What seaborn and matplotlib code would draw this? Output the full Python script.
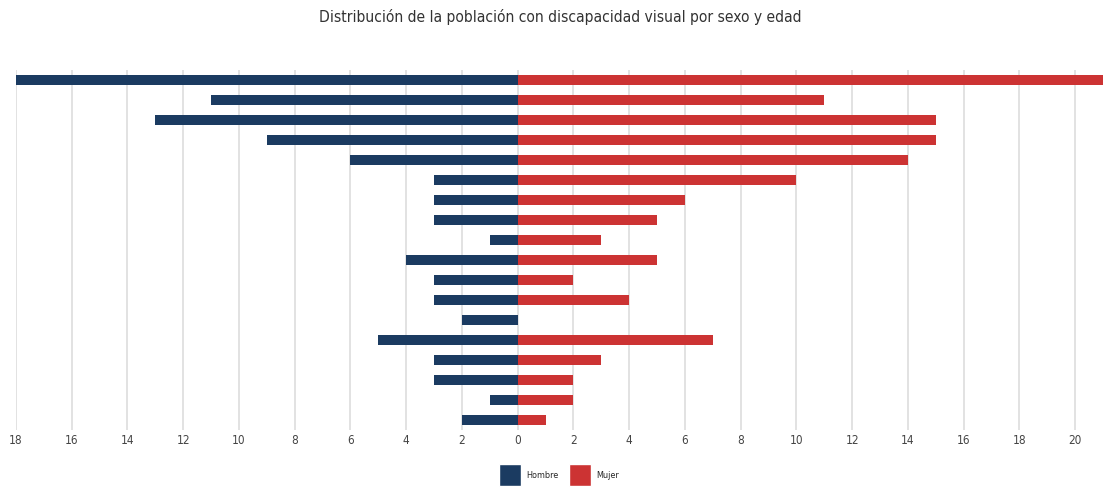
import matplotlib
matplotlib.use("Agg")
import matplotlib.pyplot as plt
import seaborn as sns
import numpy as np
import pandas as pd
from matplotlib.patches import Patch

# Data (top to bottom)
grupos = [f"g{i:02d}" for i in range(18)]
hombre = [18, 11, 13, 9, 6, 3, 3, 3, 1, 4, 3, 3, 2, 5, 3, 3, 1, 2]
mujer = [21, 11, 15, 15, 14, 10, 6, 5, 3, 5, 2, 4, 0, 7, 3, 2, 2, 1]
ticks = list(range(-18, 21, 2))

titulo = "Distribución de la población con discapacidad visual por sexo y edad"
c_h = "#1b3b61"
c_m = "#cc3333"

sns.set_theme(style="white")
plt.rcParams['font.family'] = ['DejaVu Sans']
plt.rcParams['font.stretch'] = 'condensed'

df = pd.DataFrame({"grupo": grupos, "Hombre": [-v for v in hombre], "Mujer": mujer})

fig = plt.figure(figsize=(11.03, 4.87), dpi=100)
ax = fig.add_axes([16/1103, 1 - 430/487, 1 - 16/1103, (430 - 70)/487])

sns.barplot(data=df, x="Hombre", y="grupo", color=c_h, width=0.52, orient="h",
            saturation=1, ax=ax, order=grupos, linewidth=0)
sns.barplot(data=df, x="Mujer", y="grupo", color=c_m, width=0.52, orient="h",
            saturation=1, ax=ax, order=grupos, linewidth=0)

ax.set_xlim(-18, 21)
ax.set_ylim(17.5, -0.5)
ax.set_xticks(ticks)
ax.set_xticklabels([str(abs(t)) for t in ticks], fontsize=8.5, color="#444444",
                   fontstretch="condensed")
ax.set_yticks([])
ax.set_xlabel("")
ax.set_ylabel("")
ax.grid(axis="x", color="#dddddd", linewidth=1.2)
ax.set_axisbelow(True)
for s in ax.spines.values():
    s.set_visible(False)
ax.tick_params(axis="x", length=0, pad=3)

fig.text(0.508, 1 - 17/487, titulo, ha="center", va="center", fontsize=11.2,
         color="#333333", fontstretch="condensed")

handles = [Patch(facecolor=c_h, label="Hombre"), Patch(facecolor=c_m, label="Mujer")]
fig.legend(handles=handles, loc="center", bbox_to_anchor=(0.507, 1 - 475/487), ncol=2,
           frameon=False, prop={"size": 6.5, "stretch": "condensed"},
           handlelength=2.4, handleheight=3.3,
           columnspacing=1.2, handletextpad=0.6)

fig.savefig("out.png", dpi=100)
